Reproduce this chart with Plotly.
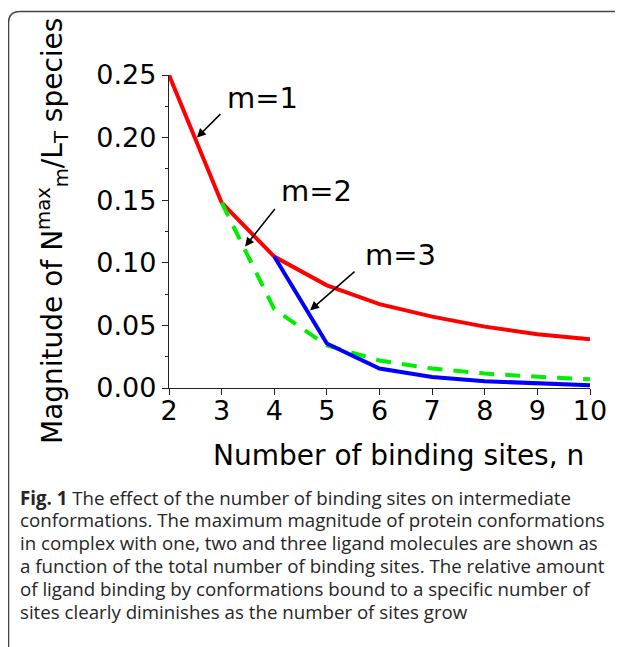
import plotly.graph_objects as go

# data
n_sites = [2, 3, 4, 5, 6, 7, 8, 9, 10]
m1_vals = [0.250, 0.148, 0.105, 0.082, 0.067, 0.057, 0.049, 0.043, 0.039]
m2_sites = [3, 4, 5, 6, 7, 8, 9, 10]
m2_vals = [0.148, 0.063, 0.034, 0.022, 0.0155, 0.0115, 0.009, 0.007]
m3_sites = [4, 5, 6, 7, 8, 9, 10]
m3_vals = [0.105, 0.0355, 0.0155, 0.0088, 0.0054, 0.0035, 0.0022]

x_ticks = [2, 3, 4, 5, 6, 7, 8, 9, 10]
y_ticks = [0.00, 0.05, 0.10, 0.15, 0.20, 0.25]
y_tick_text = ["0.00", "0.05", "0.10", "0.15", "0.20", "0.25"]

caption_lines = [
    "<b>Fig. 1</b> The effect of the number of binding sites on intermediate",
    "conformations. The maximum magnitude of protein conformations",
    "in complex with one, two and three ligand molecules are shown as",
    "a function of the total number of binding sites. The relative amount",
    "of ligand binding by conformations bound to a specific number of",
    "sites clearly diminishes as the number of sites grow",
]

# page has an 8px body margin, so the figure is laid out 8px up/left
OFF = 8
W, H = 623, 647
PL, PT, PW, PH = 169, 75, 421, 313   # plot area in page pixels
L, T = PL - OFF, PT - OFF
R, B = W - L - PW, H - T - PH


def px(x):
    return (x - PL) / PW


def py(y):
    return (PT + PH - y) / PH


FONT = "DejaVu Sans"

fig = go.Figure()
fig.add_trace(go.Scatter(x=n_sites, y=m1_vals, mode="lines",
                         line=dict(color="#ff0000", width=4), showlegend=False))
fig.add_trace(go.Scatter(x=m2_sites, y=m2_vals, mode="lines",
                         line=dict(color="#00ee00", width=4, dash="15px,11px"), showlegend=False))
fig.add_trace(go.Scatter(x=m3_sites, y=m3_vals, mode="lines",
                         line=dict(color="#0000ff", width=4), showlegend=False))

# labels with arrows
labels = [("m=1", 3.77, 0.232, 2.53, 0.200, 25, -25),
          ("m=2", 4.80, 0.157, 3.445, 0.113, 31, -39),
          ("m=3", 6.39, 0.106, 4.68, 0.062, 46, -40)]
for txt, tx, ty, hx, hy, ax, ay in labels:
    fig.add_annotation(x=tx, y=ty, text=txt, showarrow=False,
                       font=dict(family=FONT, size=29, color="black"))
    fig.add_annotation(x=hx, y=hy, text="", showarrow=True, ax=ax, ay=ay,
                       arrowhead=2, arrowsize=1.2, arrowwidth=1.5, arrowcolor="black")

# axis titles
fig.add_annotation(xref="paper", yref="paper", x=px(52), y=py(231),
                   text="Magnitude of N<sup>max</sup><sub>m</sub>/L<sub>T</sub> species",
                   textangle=-90, showarrow=False, xanchor="center", yanchor="middle",
                   font=dict(family=FONT, size=28, color="black"))
fig.add_annotation(xref="paper", yref="paper", x=px(398), y=py(455),
                   text="Number of binding sites, n", showarrow=False,
                   xanchor="center", yanchor="middle",
                   font=dict(family=FONT, size=28, color="black"))

# caption
for i, line in enumerate(caption_lines):
    fig.add_annotation(xref="paper", yref="paper", x=px(18), y=py(497 + 22.8 * i),
                       text=line, showarrow=False, xanchor="left", yanchor="middle",
                       font=dict(family="Open Sans", size=18.7, color="#262626"))

# rounded frame (top-left corner visible)
x0, x1 = px(8.5), px(660)
yt, yb = py(11.5), py(700)
rx, ry = px(20) - px(8.5), py(11.5) - py(23)
fig.add_shape(type="path", xref="paper", yref="paper",
              path=f"M {x0} {yb} L {x0} {yt - ry} Q {x0} {yt} {x0 + rx} {yt} L {x1} {yt}",
              line=dict(color="#444444", width=1.6))

fig.update_layout(
    width=W, height=H,
    margin=dict(l=L, r=R, t=T, b=B),
    paper_bgcolor="white", plot_bgcolor="white",
    xaxis=dict(range=[2, 10], tickvals=x_ticks, ticks="outside", ticklen=6,
               tickwidth=1.3, tickcolor="#222", showline=True, linecolor="#222",
               linewidth=1.3, showgrid=False, zeroline=False, ticklabelstandoff=-8,
               tickfont=dict(family=FONT, size=27, color="black")),
    yaxis=dict(range=[0, 0.25], tickvals=y_ticks, ticktext=y_tick_text, ticks="outside",
               ticklen=6, tickwidth=1.3, tickcolor="#222", showline=True, linecolor="#222",
               linewidth=1.3, showgrid=False, zeroline=False,
               minor=dict(dtick=0.025, tick0=0, ticks="outside", ticklen=3, tickcolor="#222"),
               tickfont=dict(family=FONT, size=27, color="black")),
)

fig.write_html("out.html")
